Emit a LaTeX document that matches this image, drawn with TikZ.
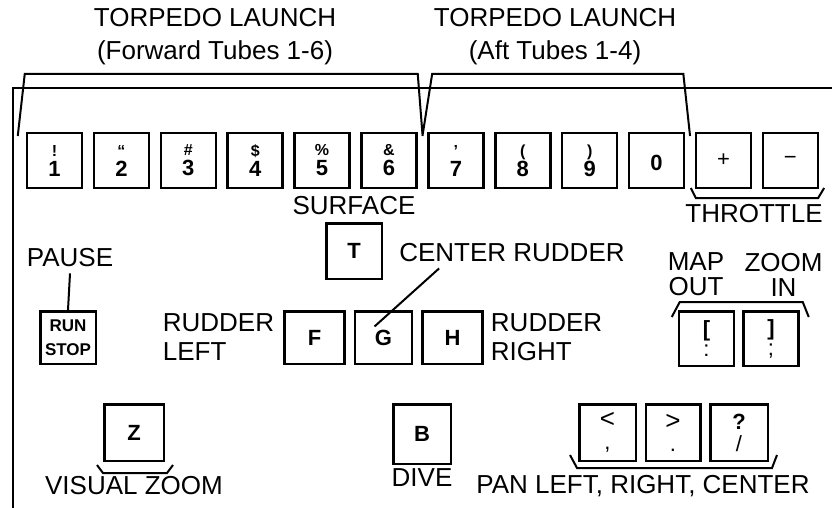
\documentclass[tikz,border=0pt]{standalone}
\usepackage{fontspec}
\setmainfont{Liberation Sans}
\usetikzlibrary{positioning,calc}
\newcommand{\upsym}[1]{{\fontsize{16}{20}\selectfont #1}}
\newcommand{\thin}[1]{{\mdseries #1}}

\begin{document}
\begin{tikzpicture}[
    x=1pt,y=-1pt,
    node distance=9.4pt,
    key/.style={rectangle,draw,line width=2.5pt,minimum width=55pt,minimum height=54.5pt,inner sep=0pt,align=center,font=\fontsize{22}{20}\selectfont\bfseries},
    lbl/.style={inner sep=0pt,align=center,font=\fontsize{26}{29}\selectfont},
    brace/.style={line width=2pt,line join=miter},
    frame/.style={line width=2pt}
]
    \useasboundingbox (0,0) rectangle (832,508);

    \node[key] (k1) at (54.5,160.5) {\upsym{!}\\1};
    \node[key,right=of k1] (k2) {\upsym{“}\\2};
    \node[key,right=of k2] (k3) {\upsym{\#}\\3};
    \node[key,right=of k3] (k4) {\upsym{\$}\\4};
    \node[key,right=of k4] (k5) {\upsym{\%}\\5};
    \node[key,right=of k5] (k6) {\upsym{\&}\\6};
    \node[key,right=of k6] (k7) {\upsym{’}\\7};
    \node[key,right=of k7] (k8) {\upsym{(}\\8};
    \node[key,right=of k8] (k9) {\upsym{)}\\9};
    \node[key,right=of k9] (k10) {\mbox{}\\0};
    \node[key,right=of k10,font=\fontsize{22}{20}\selectfont] (k11) {+};
    \node[key,right=of k11,font=\fontsize{22}{20}\selectfont] (k12) {−};

    \node[lbl,font=\fontsize{26}{33}\selectfont] (fwd) at (215,37) {TORPEDO LAUNCH\\(Forward Tubes 1-6)};
    \node[lbl,font=\fontsize{26}{33}\selectfont] (aft) at (555,37) {TORPEDO LAUNCH\\(Aft Tubes 1-4)};
    \node[lbl] (throttle) at (754,214) {THROTTLE};

    \node[key,minimum width=55.5pt,minimum height=55.5pt] (tkey) at (354,251) {T};
    \node[lbl,above=7pt of tkey] (surface) {SURFACE};
    \node[lbl] (center) at (512,253) {CENTER RUDDER};

    \node[key,minimum width=60pt,minimum height=52.5pt] (fkey) at (314.5,337.5) {F};
    \node[key,minimum width=57pt,minimum height=52.5pt,right=8pt of fkey] (gkey) {G};
    \node[key,minimum width=60pt,minimum height=52.5pt,right=8pt of gkey] (hkey) {H};
    \node[lbl,align=left,left=9pt of fkey] (rleft) {RUDDER\\LEFT};
    \node[lbl,align=left,right=7pt of hkey] (rright) {RUDDER\\RIGHT};

    \node[lbl] (pause) at (70,258) {PAUSE};
    \node[key,minimum width=55.5pt,minimum height=52.5pt,font=\fontsize{17}{24}\selectfont\bfseries] (runstop) at (68,337.5) {RUN\\STOP};

    \node[lbl,font=\fontsize{26}{25}\selectfont] (mapout) at (696,274.5) {MAP\\OUT};
    \node[lbl,font=\fontsize{26}{25}\selectfont] (zoomin) at (783.5,274.5) {ZOOM\\IN};
    \node[key,font=\fontsize{22}{20}\selectfont\bfseries] (lbrack) at (706.5,338.5) {[\\\thin{:}};
    \node[key,font=\fontsize{22}{20}\selectfont\bfseries,right=7pt of lbrack] (rbrack) {]\\\thin{;}};

    \node[key,minimum width=59.5pt,minimum height=56.5pt] (zkey) at (134,432.5) {Z};
    \node[lbl] (visual) at (134,486) {VISUAL ZOOM};
    \node[key,minimum width=57.5pt,minimum height=59.5pt] (bkey) at (422,434) {B};
    \node[lbl,below=3pt of bkey] (dive) {DIVE};

    \node[key,minimum width=56.5pt,minimum height=56.5pt,font=\fontsize{22}{22}\selectfont\bfseries] (pless) at (607.5,432.5) {\thin{\fontsize{26}{22}\selectfont <}\\\thin{,}};
    \node[key,minimum width=54.5pt,minimum height=56.5pt,font=\fontsize{22}{22}\selectfont\bfseries,right=7.5pt of pless] (pmore) {\thin{\fontsize{26}{22}\selectfont >}\\\thin{.}};
    \node[key,minimum width=57.5pt,minimum height=56.5pt,font=\fontsize{22}{22}\selectfont\bfseries,right=7.5pt of pmore] (pquest) {?\\\thin{/}};
    \node[lbl] (pan) at (643,486) {PAN LEFT, RIGHT, CENTER};

    \draw[frame] (13,508) -- (13,88) -- (832,88);

    \draw[brace] ($(k1.north west)+(-8,4)$) -- ($(k1.north west)+(-1,-58)$) -- ($(k6.north east)+(0,-58)$) -- ($(k6.north east)!.5!(k7.north west)+(0,2)$);
    \draw[brace] ($(k6.north east)!.5!(k7.north west)+(0,4)$) -- ($(k7.north west)+(5,-58)$) -- ($(k10.north east)+(-2,-58)$) -- ($(k10.north east)!.5!(k11.north west)+(0,4)$);
    \draw[brace] ($(k11.south west)+(-4,-1)$) -- ($(k11.south west)+(1,9)$) -- ($(k12.south east)+(-1,9)$) -- ($(k12.south east)+(5,-1)$);
    \draw[brace] ($(lbrack.north west)+(-6,7)$) -- ($(lbrack.north west)+(2,-8)$) -- ($(rbrack.north east)+(3,-8)$) -- ($(rbrack.north east)+(9,7)$);
    \draw[brace] ($(zkey.south west)+(-6,3)$) -- ($(zkey.south west)+(0,11)$) -- ($(zkey.south east)+(2,11)$) -- ($(zkey.south east)+(8,3)$);
    \draw[brace] ($(pless.south west)+(-8,-7)$) -- ($(pless.south west)+(-1,6)$) -- ($(pquest.south east)+(3,6)$) -- ($(pquest.south east)+(8,-7)$);

    \draw[brace] ([yshift=-6pt]pause.south) -- (runstop.north);
    \draw[brace] ($(center.south west)+(40,6)$) -- ($(gkey.center)+(-9,-11)$);
\end{tikzpicture}
\end{document}
